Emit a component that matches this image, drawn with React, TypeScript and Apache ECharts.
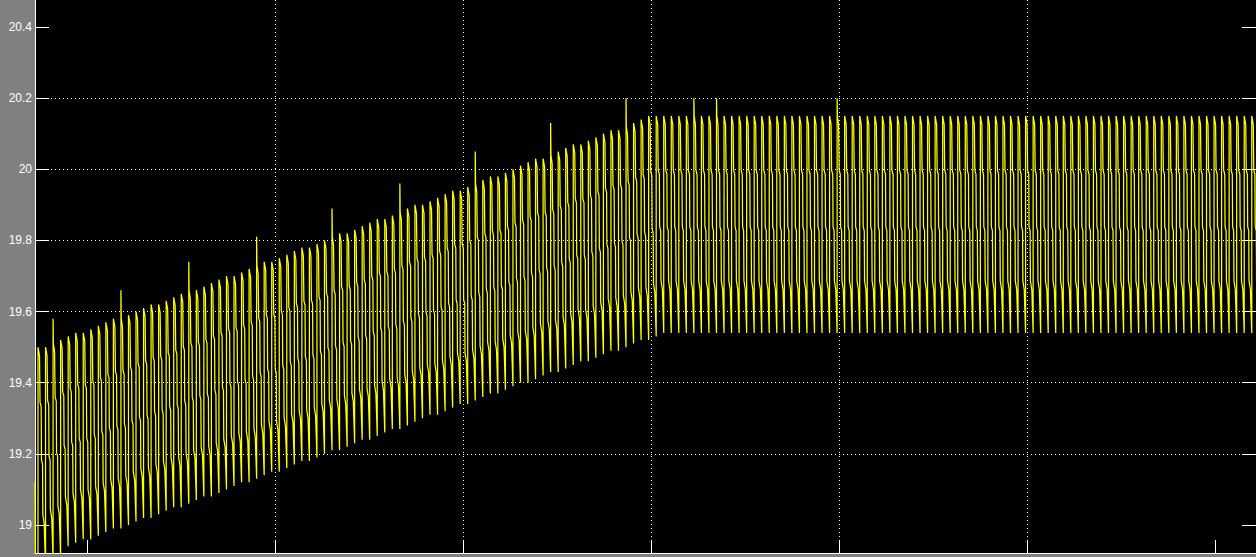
import React, { useEffect, useRef } from "react";
import * as echarts from "echarts";

// Axis tick values (Simulink scope style)
const yTicks = [19, 19.2, 19.4, 19.6, 19.8, 20, 20.2, 20.4];
const xTicks = [1, 2, 3, 4, 5, 6, 7];
const xRange = [0.7234, 7.2181];
const yRange = [18.9213, 20.4759];

// Time base of the oscillation
const cycleStart = 0.7394;
const cyclePeriod = 0.0401;
const initialTimes = [0.7234, 0.726, 0.7394];
const initialValues = [19.12, 18.86, 18.86];

// Peak value of each cycle
const peaks = [
  19.50, 19.50, 19.51, 19.52, 19.53, 19.54, 19.54, 19.55, 19.56, 19.57,
  19.58, 19.58, 19.59, 19.60, 19.61, 19.62, 19.62, 19.63, 19.64, 19.65,
  19.66, 19.66, 19.67, 19.68, 19.69, 19.70, 19.70, 19.71, 19.72, 19.73,
  19.74, 19.74, 19.75, 19.76, 19.77, 19.78, 19.78, 19.79, 19.80, 19.81,
  19.82, 19.82, 19.83, 19.84, 19.85, 19.86, 19.86, 19.87, 19.88, 19.89,
  19.90, 19.90, 19.91, 19.92, 19.93, 19.94, 19.94, 19.95, 19.96, 19.97,
  19.98, 19.98, 19.99, 20.00, 20.01, 20.02, 20.03, 20.03, 20.04, 20.05,
  20.06, 20.07, 20.07, 20.08, 20.09, 20.10, 20.11, 20.11, 20.12, 20.13,
  20.14, 20.15,
  20.15, 20.15, 20.15, 20.15, 20.15, 20.15, 20.15, 20.15, 20.15, 20.15,
  20.15, 20.15, 20.15, 20.15, 20.15, 20.15, 20.15, 20.15, 20.15, 20.15,
  20.15, 20.15, 20.15, 20.15, 20.15, 20.15, 20.15, 20.15, 20.15, 20.15,
  20.15, 20.15, 20.15, 20.15, 20.15, 20.15, 20.15, 20.15, 20.15, 20.15,
  20.15, 20.15, 20.15, 20.15, 20.15, 20.15, 20.15, 20.15, 20.15, 20.15,
  20.15, 20.15, 20.15, 20.15, 20.15, 20.15, 20.15, 20.15, 20.15, 20.15,
  20.15, 20.15, 20.15, 20.15, 20.15, 20.15, 20.15, 20.15, 20.15, 20.15,
  20.15, 20.15, 20.15, 20.15, 20.15, 20.15, 20.15, 20.15, 20.15, 20.15,
];

// Trough value reached at the end of each cycle
const troughs = [
  18.88, 18.90, 18.91, 18.94, 18.95, 18.96, 18.96, 18.97, 18.98, 18.99,
  18.99, 19.00, 19.01, 19.02, 19.02, 19.03, 19.04, 19.05, 19.05, 19.06,
  19.07, 19.08, 19.08, 19.09, 19.10, 19.11, 19.12, 19.12, 19.13, 19.14,
  19.15, 19.15, 19.16, 19.17, 19.18, 19.18, 19.19, 19.20, 19.21, 19.21,
  19.22, 19.23, 19.24, 19.24, 19.25, 19.26, 19.27, 19.27, 19.28, 19.29,
  19.30, 19.31, 19.31, 19.32, 19.33, 19.34, 19.34, 19.35, 19.36, 19.37,
  19.37, 19.38, 19.39, 19.40, 19.40, 19.41, 19.42, 19.43, 19.43, 19.44,
  19.45, 19.46, 19.46, 19.47, 19.48, 19.49, 19.49, 19.50, 19.51, 19.52,
  19.52, 19.53,
  19.54, 19.54, 19.54, 19.54, 19.54, 19.54, 19.54, 19.54, 19.54, 19.54,
  19.54, 19.54, 19.54, 19.54, 19.54, 19.54, 19.54, 19.54, 19.54, 19.54,
  19.54, 19.54, 19.54, 19.54, 19.54, 19.54, 19.54, 19.54, 19.54, 19.54,
  19.54, 19.54, 19.54, 19.54, 19.54, 19.54, 19.54, 19.54, 19.54, 19.54,
  19.54, 19.54, 19.54, 19.54, 19.54, 19.54, 19.54, 19.54, 19.54, 19.54,
  19.54, 19.54, 19.54, 19.54, 19.54, 19.54, 19.54, 19.54, 19.54, 19.54,
  19.54, 19.54, 19.54, 19.54, 19.54, 19.54, 19.54, 19.54, 19.54, 19.54,
  19.54, 19.54, 19.54, 19.54, 19.54, 19.54, 19.54, 19.54, 19.54, 19.54,
];

// Occasional overshoot spikes
const spikeCycles = [2, 11, 20, 29, 39, 48, 58, 68, 78, 87, 90, 106];
const spikeValues = [19.58, 19.66, 19.74, 19.81, 19.89, 19.96, 20.05, 20.13, 20.2, 20.2, 20.2, 20.2];

// Shape of one cycle: phase (fraction of period) and level (fraction trough..peak)
const shapePhase = [0, 0.04, 0.2, 0.27, 0.42, 0.46, 0.6, 0.64, 0.82, 1.0];
const shapeLevel = [1, 1, 0.96, 0.75, 0.73, 0.49, 0.47, 0.24, 0.2, 0];

function buildSignal(): number[][] {
  const pts: number[][] = [];
  for (let i = 0; i < initialTimes.length; i++) pts.push([initialTimes[i], initialValues[i]]);
  for (let k = 0; k < peaks.length; k++) {
    const s = cycleStart + k * cyclePeriod;
    const p = peaks[k];
    const tr = troughs[k];
    const si = spikeCycles.indexOf(k);
    for (let j = 0; j < shapePhase.length; j++) {
      let v = tr + shapeLevel[j] * (p - tr);
      if (j === 0 && si >= 0) v = spikeValues[si];
      pts.push([s + shapePhase[j] * cyclePeriod, v]);
    }
  }
  return pts;
}

export default function App() {
  const ref = useRef<HTMLDivElement>(null);
  useEffect(() => {
    if (!ref.current) return;
    const chart = echarts.init(ref.current, undefined, { renderer: "svg" });
    const dotted = { color: "#ffffff", width: 1, type: [1, 3] as any };
    chart.setOption({
      animation: false,
      backgroundColor: "#808080",
      grid: {
        left: 35,
        right: 0,
        top: 0,
        bottom: 4,
        show: true,
        backgroundColor: "#000000",
        borderWidth: 0,
      },
      xAxis: {
        type: "value",
        min: xRange[0],
        max: xRange[1],
        position: "bottom",
        axisLine: { show: true, lineStyle: { color: "#ffffff", width: 1 } },
        axisTick: { show: true, inside: true, length: 13, customValues: xTicks, lineStyle: { color: "#ffffff" } },
        axisLabel: { show: false, customValues: xTicks },
        splitLine: { show: true, showMinLine: false, showMaxLine: false, lineStyle: dotted },
      },
      yAxis: [
        {
          type: "value",
          min: yRange[0],
          max: yRange[1],
          position: "left",
          axisLine: { show: true, lineStyle: { color: "#ffffff", width: 1 } },
          axisTick: { show: true, inside: true, length: 14, customValues: yTicks, lineStyle: { color: "#ffffff" } },
          axisLabel: {
            show: true,
            customValues: yTicks,
            color: "#ffffff",
            fontSize: 12,
            fontFamily: "Liberation Sans, Arial, sans-serif",
            margin: 3,
          },
          splitLine: { show: true, showMinLine: false, showMaxLine: false, lineStyle: dotted },
        },
        {
          type: "value",
          min: yRange[0],
          max: yRange[1],
          position: "right",
          axisLine: { show: false },
          axisTick: { show: true, inside: true, length: 14, customValues: yTicks, lineStyle: { color: "#ffffff" } },
          axisLabel: { show: false },
          splitLine: { show: false },
        },
      ],
      series: [
        {
          type: "line",
          data: buildSignal(),
          showSymbol: false,
          symbol: "none",
          silent: true,
          clip: true,
          lineStyle: { color: "#ffff00", width: 1.25 },
        },
      ],
    });
    return () => chart.dispose();
  }, []);
  return (
    <div
      ref={ref}
      style={{ position: "fixed", left: 0, top: 0, width: 1256, height: 557 }}
    />
  );
}
